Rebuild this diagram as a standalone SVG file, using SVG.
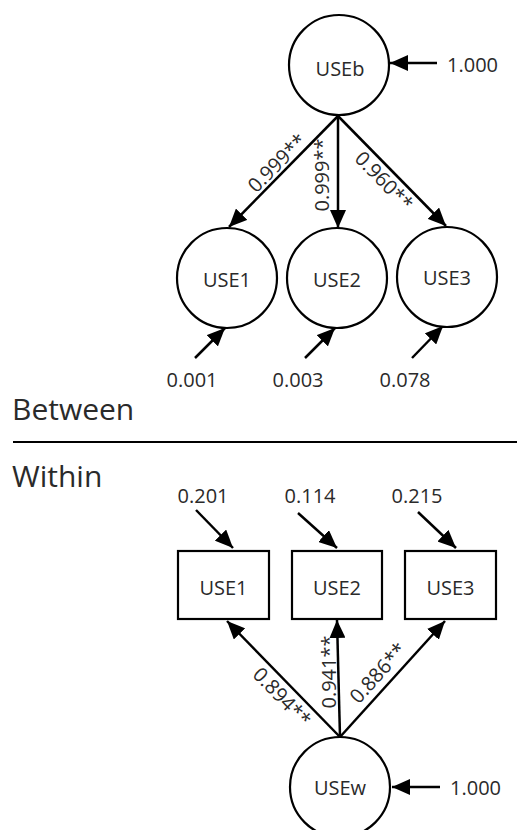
<svg xmlns="http://www.w3.org/2000/svg" width="517" height="830" viewBox="0 0 517 830">
<style>
  .n { fill: #fff; stroke: #000; stroke-width: 2.2; }
  .t { font-family: "Open Sans", "Noto Sans", "DejaVu Sans", sans-serif; font-size: 20px; fill: #2a2a2a; }
  .c { text-anchor: middle; }
  .big { font-size: 30px; }
  .e { stroke: #000; stroke-width: 2.5; fill: none; marker-end: url(#ah); }
</style>
<defs>
  <marker id="ah" markerUnits="userSpaceOnUse" viewBox="0 0 18 16" markerWidth="18" markerHeight="16" refX="18" refY="8" orient="auto">
    <path d="M0,0 L18,8 L0,16 z" fill="#000"/>
  </marker>
</defs>
<rect width="517" height="830" fill="#fff"/>

<g id="connectors">
  <line class="e" x1="338" y1="116" x2="229" y2="227"/>
  <line class="e" x1="338" y1="116" x2="338" y2="228"/>
  <line class="e" x1="338" y1="116" x2="446" y2="226"/>
  <line class="e" x1="437" y1="63" x2="390" y2="63"/>
  <line class="e" x1="195" y1="358" x2="225" y2="328"/>
  <line class="e" x1="305" y1="358" x2="335" y2="328"/>
  <line class="e" x1="412" y1="358" x2="443" y2="326"/>
  <line class="e" x1="196" y1="510" x2="233" y2="548"/>
  <line class="e" x1="298" y1="513" x2="337" y2="548"/>
  <line class="e" x1="418" y1="512" x2="456" y2="548"/>
  <line class="e" x1="340" y1="737" x2="227" y2="621"/>
  <line class="e" x1="340" y1="737" x2="337" y2="620"/>
  <line class="e" x1="340" y1="737" x2="445" y2="621"/>
  <line class="e" x1="440" y1="787" x2="392" y2="787"/>
  <text class="t c" transform="translate(277,163) rotate(-45)" y="7">0.999**</text>
  <text class="t c" transform="translate(322,175) rotate(-90)" y="7">0.999**</text>
  <text class="t c" transform="translate(384,181) rotate(46)" y="7">0.960**</text>
  <text class="t c" transform="translate(282,697) rotate(46)" y="7">0.894**</text>
  <text class="t c" transform="translate(329,672) rotate(-90)" y="7">0.941**</text>
  <text class="t c" transform="translate(378,673) rotate(-48)" y="7">0.886**</text>
</g>

<g id="USEb">
  <circle class="n" cx="339" cy="65" r="50"/>
  <text class="t c" x="340" y="76">USEb</text>
</g>
<g id="USEb_var"><text class="t" x="447" y="72">1.000</text></g>

<g id="USE1b">
  <circle class="n" cx="227" cy="278" r="50"/>
  <text class="t c" x="227" y="287">USE1</text>
</g>
<g id="USE2b">
  <circle class="n" cx="337" cy="278" r="50"/>
  <text class="t c" x="337" y="287">USE2</text>
</g>
<g id="USE3b">
  <circle class="n" cx="447" cy="277" r="50"/>
  <text class="t c" x="447" y="285">USE3</text>
</g>
<g id="res_b">
  <text class="t c" x="192" y="387">0.001</text>
  <text class="t c" x="298" y="387">0.003</text>
  <text class="t c" x="405" y="387">0.078</text>
</g>

<g id="divider">
  <text class="t big" x="12" y="420">Between</text>
  <line x1="13" y1="442" x2="517" y2="442" stroke="#000" stroke-width="2.2"/>
  <text class="t big" x="12" y="487">Within</text>
</g>

<g id="res_w">
  <text class="t c" x="203" y="503">0.201</text>
  <text class="t c" x="310" y="503">0.114</text>
  <text class="t c" x="417" y="503">0.215</text>
</g>

<g id="USE1w">
  <rect class="n" x="178" y="551" width="91" height="68"/>
  <text class="t c" x="223.5" y="595">USE1</text>
</g>
<g id="USE2w">
  <rect class="n" x="292" y="551" width="90" height="68"/>
  <text class="t c" x="337" y="595">USE2</text>
</g>
<g id="USE3w">
  <rect class="n" x="405" y="551" width="91" height="68"/>
  <text class="t c" x="450.5" y="595">USE3</text>
</g>

<g id="USEw">
  <circle class="n" cx="340" cy="787" r="50"/>
  <text class="t c" x="340" y="795">USEw</text>
</g>
<g id="USEw_var"><text class="t" x="450" y="795">1.000</text></g>
</svg>
